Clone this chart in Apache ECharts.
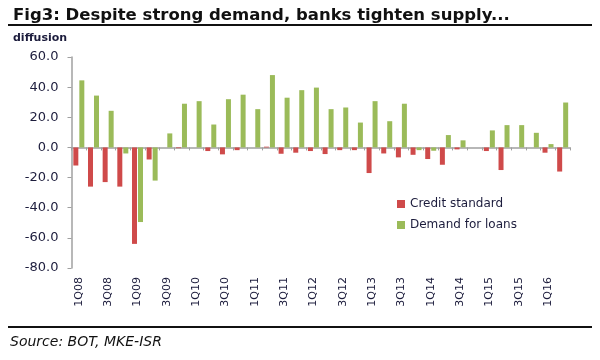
<!DOCTYPE html>
<html>
<head>
<meta charset="utf-8">
<script src="https://cdn.jsdelivr.net/npm/echarts@6/dist/echarts.min.js"></script>
<style>html,body{margin:0;padding:0;background:#fff;}#c{width:600px;height:360px;}</style>
</head>
<body>
<div id="c"></div>
<script>
var categories = ['1Q08','2Q08','3Q08','4Q08','1Q09','2Q09','3Q09','4Q09','1Q10','2Q10','3Q10','4Q10',
  '1Q11','2Q11','3Q11','4Q11','1Q12','2Q12','3Q12','4Q12','1Q13','2Q13','3Q13','4Q13',
  '1Q14','2Q14','3Q14','4Q14','1Q15','2Q15','3Q15','4Q15','1Q16','2Q16'];
var creditStandard = [-12,-26,-23,-26,-64,-8,0,-0.5,0,-2.4,-4.6,-1.8,
  0,0.5,-4.2,-3.5,-2.4,-4.4,-1.8,-1.8,-17,-4,-6.6,-4.9,
  -7.7,-11.5,-1.3,0,-2.4,-15,0,0,-3.5,-16];
var demandForLoans = [44.5,34.4,24.3,-4,-49.5,-22,9.3,29,30.7,15.2,32,35,
  25.4,48,33,38,39.7,25.4,26.5,16.5,30.7,17.4,29,-1.8,
  -2.2,8.2,4.7,0,11.3,14.8,14.8,9.7,2.2,29.8];
var yTicks = {min:-80, max:60, interval:20};

var font = 'DejaVu Sans';
var textColor = '#1c1c3c';
var chart = echarts.init(document.getElementById('c'));
chart.setOption({
  animation: false,
  title: {
    text: 'Fig3: Despite strong demand, banks tighten supply...',
    left: 8, top: 2,
    textStyle: {fontFamily: font, fontWeight: 'bold', fontSize: 16.5, color: '#111'}
  },
  graphic: [
    {type:'rect', shape:{x:8, y:24, width:584, height:2}, style:{fill:'#111'}},
    {type:'rect', shape:{x:8, y:326, width:584, height:2}, style:{fill:'#111'}},
    {type:'text', left: 13, top: 33, style:{text:'diffusion', font:'bold 11px "DejaVu Sans"', fill: textColor}},
    {type:'text', left: 10, top: 335, style:{text:'Source: BOT, MKE-ISR', font:'italic 14px "DejaVu Sans"', fill: '#111'}}
  ],
  legend: {
    orient: 'vertical', left: 392, top: 193,
    itemWidth: 8, itemHeight: 8, itemGap: 9, icon: 'rect',
    textStyle: {fontFamily: font, fontSize: 12, color: textColor},
    data: ['Credit standard','Demand for loans']
  },
  grid: {left: 71.5, right: 30, top: 57, bottom: 92, containLabel: false},
  xAxis: [
    {type:'category', data: categories, position:'bottom',
     axisLine:{onZero:true, lineStyle:{color:'#a0a0a0', width:1.5}},
     axisTick:{show:true, length:3, inside:false, interval:0, lineStyle:{color:'#a0a0a0'}},
     axisLabel:{show:false}},
    {type:'category', data: categories, position:'bottom',
     axisLine:{show:false}, axisTick:{show:false},
     axisLabel:{show:true, interval:1, rotate:90, margin:9, fontFamily: font, fontSize: 11, color: textColor}}
  ],
  yAxis: {
    type:'value', min: yTicks.min, max: yTicks.max, interval: yTicks.interval,
    splitLine:{show:false},
    axisLine:{show:true, lineStyle:{color:'#a0a0a0', width:1.5}},
    axisTick:{show:true, length:4, lineStyle:{color:'#a0a0a0'}},
    axisLabel:{margin:13, fontFamily: font, fontSize: 13, color: textColor,
      formatter: function(v){ return v.toFixed(1); }}
  },
  series: [
    {name:'Credit standard', type:'bar', data: creditStandard, barWidth:5, barGap:'20%',
     itemStyle:{color:'#cf4a4a'}},
    {name:'Demand for loans', type:'bar', data: demandForLoans, barWidth:5, barGap:'20%',
     itemStyle:{color:'#9bbb59'}}
  ]
});
</script>
</body>
</html>
